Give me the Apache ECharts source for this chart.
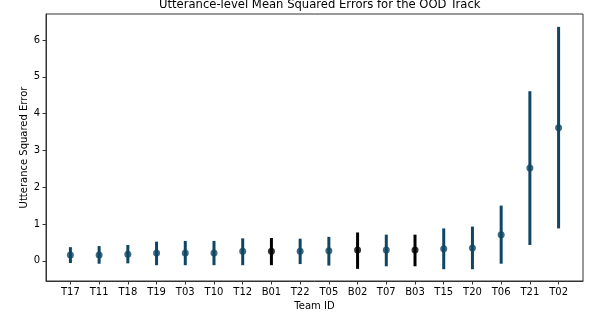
<!DOCTYPE html>
<html>
<head>
<meta charset="utf-8">
<script src="https://cdn.jsdelivr.net/npm/echarts@6/dist/echarts.min.js"></script>
<style>
  html, body { margin: 0; padding: 0; background: #fff; }
  #container { width: 598px; height: 320px; }
</style>
</head>
<body>
<div id="container"></div>
<script>
var teams = ['T17', 'T11', 'T18', 'T19', 'T03', 'T10', 'T12', 'B01', 'T22', 'T05',
             'B02', 'T07', 'B03', 'T15', 'T20', 'T06', 'T21', 'T02'];
var means = [0.155, 0.155, 0.18, 0.21, 0.21, 0.21, 0.26, 0.26, 0.26, 0.27,
             0.29, 0.29, 0.29, 0.33, 0.35, 0.71, 2.52, 3.62];
var lows  = [-0.06, -0.08, -0.07, -0.12, -0.12, -0.12, -0.12, -0.12, -0.09, -0.13,
             -0.22, -0.15, -0.15, -0.23, -0.23, -0.08, 0.43, 0.88];
var highs = [0.37, 0.40, 0.43, 0.52, 0.54, 0.54, 0.61, 0.62, 0.60, 0.65,
             0.77, 0.71, 0.71, 0.88, 0.93, 1.50, 4.61, 6.36];
var yTicks = [0, 1, 2, 3, 4, 5, 6];

var blue = '#0f4664';
var black = '#000000';
function colorOf(i) { return teams[i].charAt(0) === 'B' ? black : blue; }

var xTicks = teams.map(function (t, i) { return i; });

var barData = teams.map(function (t, i) { return [i, lows[i], highs[i]]; });
var dotData = teams.map(function (t, i) {
  return { value: [i, means[i]], itemStyle: { color: colorOf(i) } };
});

var dom = document.getElementById('container');
var myChart = echarts.init(dom, null, { renderer: 'canvas' });

var axisFont = { fontFamily: 'DejaVu Sans', fontSize: 10, color: '#000' };

var option = {
  animation: false,
  title: {
    text: 'Utterance-level Mean Squared Errors for the OOD Track',
    left: 154,
    top: -6,
    textStyle: { fontFamily: 'DejaVu Sans', fontSize: 11.6, fontWeight: 'normal', color: '#000' }
  },
  grid: {
    left: 46, right: 15, top: 14, bottom: 39,
    show: true, borderColor: '#333', borderWidth: 1
  },
  xAxis: {
    type: 'value',
    min: -0.85, max: 17.85,
    name: 'Team ID',
    nameLocation: 'middle',
    nameGap: 20,
    nameMoveOverlap: false,
    nameTextStyle: axisFont,
    splitLine: { show: false },
    axisLine: { onZero: false, lineStyle: { color: '#333' } },
    axisTick: { customValues: xTicks, length: 3.5, lineStyle: { color: '#333' } },
    axisLabel: Object.assign({
      customValues: xTicks,
      margin: 6,
      formatter: function (v) { return teams[Math.round(v)]; }
    }, axisFont)
  },
  yAxis: {
    type: 'value',
    min: -0.55, max: 6.71,
    name: 'Utterance Squared Error',
    nameLocation: 'middle',
    nameGap: 17,
    nameMoveOverlap: false,
    nameTextStyle: axisFont,
    splitLine: { show: false },
    axisLine: { show: true, onZero: false, lineStyle: { color: '#333' } },
    axisTick: { show: true, customValues: yTicks, length: 3.5, lineStyle: { color: '#333' } },
    axisLabel: Object.assign({ customValues: yTicks, margin: 6 }, axisFont)
  },
  series: [
    {
      type: 'custom',
      data: barData,
      renderItem: function (params, api) {
        var i = api.value(0);
        var p1 = api.coord([i, api.value(1)]);
        var p2 = api.coord([i, api.value(2)]);
        return {
          type: 'line',
          shape: { x1: p1[0], y1: p1[1], x2: p2[0], y2: p2[1] },
          style: { stroke: colorOf(params.dataIndex), lineWidth: 3 }
        };
      },
      z: 2
    },
    {
      type: 'scatter',
      data: dotData,
      symbolSize: 7,
      z: 3
    }
  ]
};

myChart.setOption(option);
window.addEventListener('resize', myChart.resize);
</script>
</body>
</html>
